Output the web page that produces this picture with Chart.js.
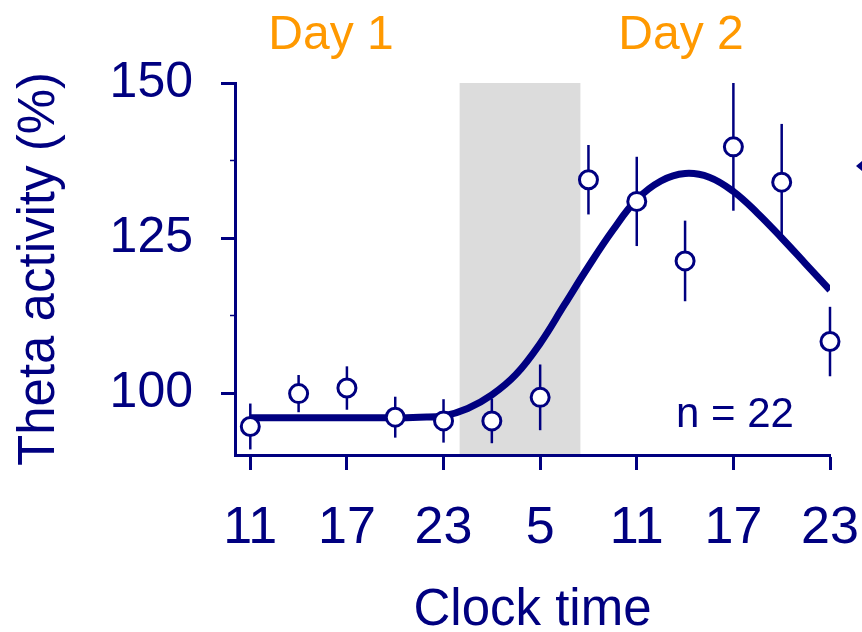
<!DOCTYPE html>
<html lang="en">
<head>
    <meta charset="UTF-8">
    <title>Theta activity across two days</title>
    <script src="https://cdn.jsdelivr.net/npm/chart.js"></script>
    <style>
        body { margin: 0; background: #fff; }
        .chart-box { position: relative; width: 862px; height: 632px; }
    </style>
</head>
<body>
    <div class="chart-box"><canvas id="thetaChart"></canvas></div>

    <script>
        // hours elapsed since 11:00 on day 1
        const sampleHours = [0, 3, 6, 9, 12, 15, 18, 21, 24, 27, 30, 33, 36];
        const thetaMeans = [94.6, 99.9, 100.8, 96.1, 95.5, 95.5, 99.3, 134.4, 130.9, 121.3, 139.7, 134.0, 108.3];
        const thetaErrors = [3.7, 3.0, 3.5, 3.3, 3.5, 3.6, 5.3, 5.6, 7.2, 6.5, 10.3, 9.4, 5.6];

        // fitted curve
        const fitHours = [0, 3, 6, 9, 10.5, 12, 13.5, 15, 16.5, 18, 19.5, 21, 22.5, 24, 25.5, 27, 28.5, 30, 31.5, 33, 34.5, 36];
        const fitValues = [96.0, 96.0, 96.0, 96.0, 96.1, 96.3, 97.5, 99.7, 103.0, 108.0, 114.2, 120.4, 126.2, 131.2, 134.2, 135.4, 134.8, 132.5, 129.0, 125.0, 120.8, 116.6];

        const clockTickHours = [0, 6, 12, 18, 24, 30, 36];
        const clockTickLabels = ['11', '17', '23', '5', '11', '17', '23'];
        const yTickValues = [100, 112.5, 125, 137.5, 150];
        const darkPhase = [13, 20.5]; // lights off, grey band

        const navy = '#000080';
        const family = '"Liberation Sans", Arial, sans-serif';

        const extras = {
            id: 'extras',
            beforeDraw(chart) {
                const { ctx, chartArea, scales: { x } } = chart;
                const x0 = x.getPixelForValue(darkPhase[0]);
                const x1 = x.getPixelForValue(darkPhase[1]);
                ctx.save();
                ctx.fillStyle = '#dcdcdc';
                ctx.fillRect(x0, chartArea.top, x1 - x0, chartArea.bottom - chartArea.top);
                ctx.restore();
            },
            beforeDatasetsDraw(chart) {
                // error bars
                const { ctx, scales: { x, y } } = chart;
                ctx.save();
                ctx.strokeStyle = navy;
                ctx.lineWidth = 2.5;
                sampleHours.forEach((h, i) => {
                    const px = x.getPixelForValue(h);
                    ctx.beginPath();
                    ctx.moveTo(px, y.getPixelForValue(thetaMeans[i] - thetaErrors[i]));
                    ctx.lineTo(px, y.getPixelForValue(thetaMeans[i] + thetaErrors[i]));
                    ctx.stroke();
                });
                ctx.restore();
            },
            afterDraw(chart) {
                const { ctx, chartArea, scales: { y } } = chart;
                ctx.save();
                // minor ticks on the y axis
                ctx.strokeStyle = navy;
                ctx.lineWidth = 1.5;
                yTickValues.filter(v => v % 25 !== 0).forEach(v => {
                    const py = y.getPixelForValue(v);
                    ctx.beginPath();
                    ctx.moveTo(chartArea.left - 5, py);
                    ctx.lineTo(chartArea.left, py);
                    ctx.stroke();
                });
                // day labels
                ctx.fillStyle = '#ff9900';
                ctx.font = '48px ' + family;
                ctx.textAlign = 'center';
                ctx.textBaseline = 'alphabetic';
                ctx.fillText('Day 1', 331, 49);
                ctx.fillText('Day 2', 681, 49);
                // sample size
                ctx.fillStyle = navy;
                ctx.font = '42px ' + family;
                ctx.fillText('n = 22', 735, 427);
                // arrow tip cut off at the right edge
                ctx.beginPath();
                ctx.moveTo(856, 166);
                ctx.lineTo(862, 161);
                ctx.lineTo(862, 171);
                ctx.closePath();
                ctx.fill();
                ctx.restore();
            }
        };

        const ctx = document.getElementById('thetaChart').getContext('2d');
        const thetaChart = new Chart(ctx, {
            type: 'line',
            data: {
                datasets: [
                    {
                        label: 'Theta activity',
                        data: sampleHours.map((h, i) => ({ x: h, y: thetaMeans[i] })),
                        showLine: false,
                        pointRadius: 9,
                        pointBorderWidth: 3,
                        pointBackgroundColor: '#ffffff',
                        pointBorderColor: navy,
                        clip: false,
                        order: 0
                    },
                    {
                        label: 'Fit',
                        data: fitHours.map((h, i) => ({ x: h, y: fitValues[i] })),
                        borderColor: navy,
                        borderWidth: 7,
                        pointRadius: 0,
                        tension: 0.4,
                        fill: false,
                        order: 1
                    }
                ]
            },
            options: {
                responsive: true,
                maintainAspectRatio: false,
                animation: false,
                layout: { padding: { top: 83, right: 32, left: 0, bottom: 0 } },
                plugins: {
                    legend: { display: false },
                    tooltip: { enabled: false }
                },
                scales: {
                    x: {
                        type: 'linear',
                        min: -0.95,
                        max: 36,
                        afterFit(scale) {
                            scale.height = 177;
                            scale.paddingLeft = 0;
                            scale.paddingRight = 0;
                        },
                        afterBuildTicks(scale) { scale.ticks = clockTickHours.map(v => ({ value: v })); },
                        border: { display: true, color: navy, width: 3 },
                        grid: { drawOnChartArea: false, tickLength: 15, tickWidth: 3, tickColor: navy },
                        ticks: {
                            autoSkip: false,
                            maxRotation: 0,
                            padding: 27,
                            color: navy,
                            font: { family: family, size: 52 },
                            callback: (v, i) => clockTickLabels[i]
                        },
                        title: {
                            display: true,
                            text: 'Clock time',
                            color: navy,
                            font: { family: family, size: 51, lineHeight: 1 },
                            padding: { top: 0, bottom: -4 }
                        }
                    },
                    y: {
                        min: 90,
                        max: 150,
                        afterFit(scale) { scale.width = 235; },
                        afterBuildTicks(scale) { scale.ticks = yTickValues.map(v => ({ value: v })); },
                        border: { display: true, color: navy, width: 3 },
                        grid: {
                            drawOnChartArea: false,
                            tickLength: 14,
                            tickWidth: 3,
                            tickColor: c => (c.tick && c.tick.value % 25 === 0 ? navy : 'rgba(0,0,0,0)')
                        },
                        ticks: {
                            padding: 28,
                            color: navy,
                            font: { family: family, size: 50 },
                            callback: v => (v % 25 === 0 ? v : '')
                        },
                        title: {
                            display: true,
                            text: 'Theta activity (%)',
                            color: navy,
                            font: { family: family, size: 51, lineHeight: 1 },
                            padding: { top: 14, bottom: 0 }
                        }
                    }
                }
            },
            plugins: [extras]
        });
    </script>
</body>
</html>
